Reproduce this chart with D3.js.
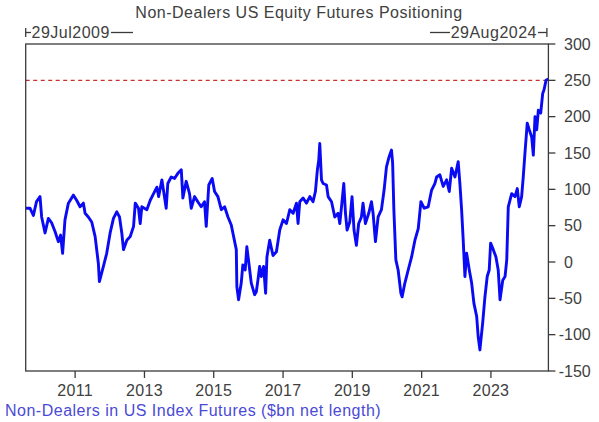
<!DOCTYPE html>
<html>
<head>
<meta charset="utf-8">
<script src="https://cdn.jsdelivr.net/npm/d3@7"></script>
<style>
  body { margin: 0; background: #fff; }
  text { font-family: "Liberation Sans", Arial, sans-serif; }
</style>
</head>
<body>
<svg id="chart"></svg>
<script>
// weekly positioning ($bn net length)
const dates = [
  "2009-07-29","2009-09-12","2009-10-18","2009-11-20","2009-12-27","2010-01-13","2010-02-18","2010-03-25",
  "2010-04-28","2010-06-03","2010-07-08","2010-08-01","2010-08-22","2010-09-16","2010-10-22","2010-12-13",
  "2011-01-17","2011-02-22","2011-03-29","2011-04-16","2011-05-20","2011-06-25","2011-07-31","2011-09-03",
  "2011-09-14","2011-10-26","2011-11-30","2012-01-05","2012-02-09","2012-03-15","2012-04-13","2012-05-07",
  "2012-05-25","2012-06-29","2012-08-04","2012-09-08","2012-09-26","2012-10-30","2012-11-17","2012-12-04",
  "2013-01-26","2013-03-03","2013-04-07","2013-05-12","2013-05-30","2013-07-04","2013-08-18","2013-09-04",
  "2013-10-10","2013-11-14","2013-12-19","2014-01-24","2014-02-10","2014-03-17","2014-04-21","2014-05-09",
  "2014-06-13","2014-07-17","2014-08-22","2014-09-26","2014-10-14","2014-11-10","2014-12-16","2015-01-10",
  "2015-02-14","2015-03-22","2015-04-26","2015-05-31","2015-07-05","2015-07-22","2015-08-27","2015-09-02",
  "2015-09-20","2015-10-18","2015-11-04","2015-11-29","2015-12-16","2016-01-07","2016-02-01","2016-03-07",
  "2016-03-25","2016-04-11","2016-04-29","2016-05-17","2016-06-10","2016-07-01","2016-07-15","2016-08-13",
  "2016-09-17","2016-10-23","2016-11-27","2017-01-01","2017-02-06","2017-03-13","2017-04-17","2017-05-22",
  "2017-06-08","2017-06-26","2017-07-31","2017-09-05","2017-10-10","2017-11-13","2017-12-08","2017-12-29",
  "2018-01-12","2018-01-23","2018-02-10","2018-02-27","2018-04-04","2018-04-21","2018-05-27","2018-06-30",
  "2018-08-04","2018-08-22","2018-09-09","2018-10-03","2018-10-21","2018-11-07","2018-12-05","2018-12-29",
  "2019-01-19","2019-02-13","2019-03-09","2019-04-07","2019-04-24","2019-05-19","2019-06-23","2019-07-22",
  "2019-08-08","2019-09-02","2019-09-30","2019-11-04","2019-12-02","2019-12-27","2020-01-24","2020-02-18",
  "2020-03-01","2020-03-14","2020-04-04","2020-04-28","2020-05-27","2020-06-09","2020-07-08","2020-08-12",
  "2020-09-17","2020-10-22","2020-11-26","2020-12-24","2021-01-28","2021-03-11","2021-04-16","2021-05-20",
  "2021-06-08","2021-07-12","2021-08-16","2021-09-21","2021-10-19","2021-11-13","2021-12-18","2022-01-21",
  "2022-02-08","2022-02-26","2022-03-15","2022-04-02","2022-04-20","2022-05-18","2022-06-12","2022-07-06",
  "2022-08-04","2022-08-20","2022-09-07","2022-10-06","2022-10-30","2022-11-23","2022-12-14","2022-12-29",
  "2023-01-26","2023-02-23","2023-03-19","2023-04-07","2023-05-06","2023-05-30","2023-06-17","2023-07-03",
  "2023-08-08","2023-09-12","2023-10-06","2023-10-27","2023-11-21","2023-12-08","2023-12-26","2024-01-19",
  "2024-02-09","2024-03-06","2024-03-23","2024-04-10","2024-04-28","2024-05-15","2024-06-09","2024-06-30",
  "2024-07-14","2024-08-04","2024-08-29"
];
const values = [
  74, 74, 64, 83, 90, 62, 40, 60,
  54, 42, 28, 37, 12, 58, 81, 92,
  85, 76, 81, 67, 62, 55, 35, -2,
  -27, -6, 12, 40, 60, 69, 62, 40,
  17, 30, 35, 49, 81, 74, 53, 76,
  72, 85, 94, 103, 90, 113, 74, 108,
  117, 115, 122, 127, 88, 111, 94, 74,
  90, 83, 76, 83, 49, 106, 115, 97,
  90, 72, 76, 62, 51, 40, 17, -34,
  -52, -29, -4, -11, 21, -2, -29, -45,
  -41, -25, -6, -20, -6, -43, 7, 30,
  9, 14, 44, 58, 53, 72, 67, 81,
  53, 83, 88, 81, 90, 83, 97, 127,
  140, 163, 113, 108, 106, 90, 83, 62,
  67, 53, 76, 108, 67, 44, 55, 90,
  44, 23, 53, 62, 81, 53, 67, 83,
  67, 28, 62, 72, 99, 131, 145, 154,
  136, 72, 3, -11, -43, -48, -29, -11,
  7, 30, 46, 83, 74, 76, 99, 108,
  117, 120, 104, 113, 97, 129, 117, 138,
  108, 72, 30, -20, 12, -11, -29, -57,
  -75, -103, -121, -84, -48, -20, -11, 26,
  17, 7, -11, -52, -25, -20, 3, 76,
  94, 90, 101, 76, 90, 117, 150, 191,
  182, 172, 147, 200, 182, 209, 205, 232,
  237, 250, 252
];
const yTicks = [300, 250, 200, 150, 100, 50, 0, -50, -100, -150];
const xTickYears = [2011, 2013, 2015, 2017, 2019, 2021, 2023];
const refLevel = 250;
const startLabel = "29Jul2009";
const endLabel = "29Aug2024";
const titleText = "Non-Dealers US Equity Futures Positioning";
const legendText = "Non-Dealers in US Index Futures ($bn net length)";

const WIDTH = 599;
const HEIGHT = 422;
const plot = { left: 25.7, right: 548.4, top: 44, bottom: 371 };
const AXIS = "#3a3a3a";
const TEXT = "#404040";

const parse = d3.timeParse("%Y-%m-%d");
const data = dates.map((d, i) => ({ date: parse(d), value: values[i] }));

const svg = d3.select("#chart").attr("width", WIDTH).attr("height", HEIGHT);

const x = d3.scaleTime()
  .domain([parse(dates[0]), parse(dates[dates.length - 1])])
  .range([plot.left, plot.right]);

const y = d3.scaleLinear()
  .domain([-150, 300])
  .range([plot.bottom, plot.top]);

// title
svg.append("text")
  .attr("x", 299).attr("y", 18)
  .attr("text-anchor", "middle")
  .attr("font-size", 16)
  .attr("letter-spacing", 0.5)
  .attr("fill", TEXT)
  .text(titleText);

// reference level
svg.append("line")
  .attr("x1", plot.left).attr("x2", plot.right)
  .attr("y1", y(refLevel)).attr("y2", y(refLevel))
  .attr("stroke", "#c8322d")
  .attr("stroke-width", 1.3)
  .attr("stroke-dasharray", "4,3.5");

// series
const line = d3.line()
  .x((d) => x(d.date))
  .y((d) => y(d.value));

svg.append("path")
  .datum(data)
  .attr("d", line)
  .attr("fill", "none")
  .attr("stroke", "#0a0af5")
  .attr("stroke-width", 2.9)
  .attr("stroke-linejoin", "round");

// frame
svg.append("rect")
  .attr("x", plot.left).attr("y", plot.top)
  .attr("width", plot.right - plot.left)
  .attr("height", plot.bottom - plot.top)
  .attr("fill", "none")
  .attr("stroke", AXIS)
  .attr("stroke-width", 1.3);

// right axis
const yAxis = svg.append("g").attr("class", "yAxis");
yAxis.selectAll("line")
  .data(yTicks)
  .enter()
  .append("line")
  .attr("x1", plot.right).attr("x2", plot.right + 7)
  .attr("y1", (d) => y(d)).attr("y2", (d) => y(d))
  .attr("stroke", AXIS).attr("stroke-width", 1.3);
yAxis.selectAll("text.num")
  .data(yTicks)
  .enter()
  .append("text")
  .attr("class", "num")
  .attr("x", 564).attr("y", (d) => y(d) + 5.8)
  .attr("font-size", 16)
  .attr("fill", TEXT)
  .text((d) => Math.abs(d));
yAxis.selectAll("text.minus")
  .data(yTicks.filter((d) => d < 0))
  .enter()
  .append("text")
  .attr("class", "minus")
  .attr("x", 564).attr("y", (d) => y(d) + 5.8)
  .attr("text-anchor", "end")
  .attr("font-size", 16)
  .attr("fill", TEXT)
  .text("-");

// bottom axis
const xAxis = svg.append("g").attr("class", "xAxis");
const xTickDates = xTickYears.map((yr) => new Date(yr, 0, 1));
xAxis.selectAll("line")
  .data(xTickDates)
  .enter()
  .append("line")
  .attr("x1", (d) => x(d)).attr("x2", (d) => x(d))
  .attr("y1", plot.bottom).attr("y2", plot.bottom + 7)
  .attr("stroke", AXIS).attr("stroke-width", 1.3);
xAxis.selectAll("text")
  .data(xTickDates)
  .enter()
  .append("text")
  .attr("x", (d) => x(d)).attr("y", 396)
  .attr("text-anchor", "middle")
  .attr("font-size", 16)
  .attr("letter-spacing", 0.3)
  .attr("fill", TEXT)
  .text((d) => d.getFullYear());

// date range markers above the frame
const marker = svg.append("g").attr("stroke", AXIS).attr("stroke-width", 1.3);
marker.append("line").attr("x1", plot.left).attr("x2", plot.left).attr("y1", 28).attr("y2", 37);
marker.append("line").attr("x1", plot.left).attr("x2", 31).attr("y1", 32.5).attr("y2", 32.5);
marker.append("line").attr("x1", 111).attr("x2", 133).attr("y1", 32.5).attr("y2", 32.5);
marker.append("line").attr("x1", 430).attr("x2", 450).attr("y1", 32.5).attr("y2", 32.5);
marker.append("line").attr("x1", 538).attr("x2", plot.right - 1.5).attr("y1", 32.5).attr("y2", 32.5);
marker.append("line").attr("x1", plot.right - 1.5).attr("x2", plot.right - 1.5).attr("y1", 28).attr("y2", 37);

svg.append("text")
  .attr("x", 31.5).attr("y", 38)
  .attr("font-size", 16).attr("letter-spacing", 0.5).attr("fill", TEXT)
  .text(startLabel);
svg.append("text")
  .attr("x", 537).attr("y", 38)
  .attr("text-anchor", "end")
  .attr("font-size", 16).attr("letter-spacing", 0.5).attr("fill", TEXT)
  .text(endLabel);

// legend
svg.append("text")
  .attr("x", 5).attr("y", 416)
  .attr("font-size", 16)
  .attr("letter-spacing", 0.5)
  .attr("fill", "#4a4ad6")
  .text(legendText);
</script>
</body>
</html>
